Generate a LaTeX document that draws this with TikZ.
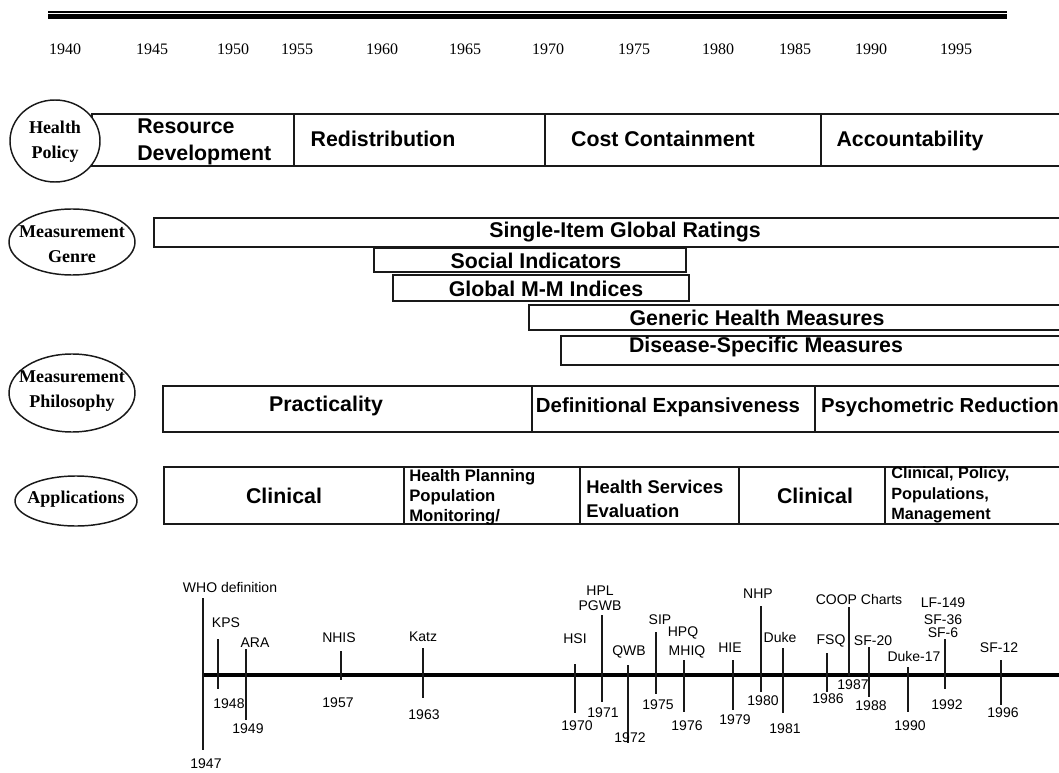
\documentclass[tikz,border=0pt]{standalone}
\usepackage{fontspec}
\setmainfont{Liberation Serif}
\newfontfamily\arial{Liberation Sans}
\usetikzlibrary{shapes.geometric}
\begin{document}
\begin{tikzpicture}[x=0.75pt,y=-0.75pt,
  box/.style={draw=black!90, line width=1.1pt},
  ell/.style={draw=black!90, line width=1.1pt, fill=white},
  yr/.style={font=\fontsize{12}{14}\selectfont, inner sep=0pt},
  cat/.style={font=\bfseries\fontsize{13.5}{18.5}\selectfont, align=center, inner sep=0pt},
  big/.style={font=\arial\bfseries\fontsize{16}{20.5}\selectfont, inner sep=0pt},
  mid/.style={font=\arial\bfseries\fontsize{13.8}{18}\selectfont, inner sep=0pt, align=left},
  sml/.style={font=\arial\bfseries\fontsize{12.5}{15}\selectfont, inner sep=0pt, align=left},
  tick/.style={draw=black!90, line width=1.1pt},
  tl/.style={font=\arial\fontsize{10.5}{12.5}\selectfont, inner sep=0pt}]
\useasboundingbox (0,0) rectangle (1059,773);
\clip (0,0) rectangle (1059,773);
% top rule
\draw[line width=0.8pt] (48,12) -- (1007,12);
\draw[line width=3.2pt] (48,16.5) -- (1007,16.5);
% years
\foreach \yy/\xx in {1940/65,1945/152,1950/233,1955/297,1960/382,1965/465,1970/548,1975/634,1980/718,1985/795,1990/871,1995/956}
  \node[yr] (y\yy) at (\xx,49) {\yy};

% Health Policy
\draw[box] (92,114) rectangle (1066,166);
\draw[box] (294,114) -- (294,166);
\draw[box] (545,114) -- (545,166);
\draw[box] (821,114) -- (821,166);
\draw[ell] (55,141) ellipse [x radius=45, y radius=41];
\node[cat] (hp) at (55,142) {Health\\Policy};
\node[big, anchor=west, align=left] (rd) at (137,142) {Resource\\Development};
\node[big] (redis) at (383,139) {Redistribution};
\node[big] (cost) at (663,139) {Cost Containment};
\node[big] (acc) at (910,141) {Accountability};

% Measurement Genre
\draw[box] (154,218) rectangle (1066,247);
\draw[box] (374,248) rectangle (686,272);
\draw[box] (393,275) rectangle (689,301);
\draw[box] (529,305) rectangle (1066,330);
\draw[box] (561,336) rectangle (1066,365);
\draw[ell] (72,242) ellipse [x radius=63, y radius=33];
\node[cat] (mg) at (72,244) {Measurement\\Genre};
\node[big] (sing) at (625,232) {Single-Item Global Ratings};
\node[big] (soc) at (536,261) {Social Indicators};
\node[big] (gmm) at (546,289) {Global M-M Indices};
\node[big] (gen) at (757,318) {Generic Health Measures};
\node[big] (dis) at (766,347) {Disease-Specific Measures};

% Measurement Philosophy
\draw[box] (163,386) rectangle (1066,432);
\draw[box] (532,386) -- (532,432);
\draw[box] (815,386) -- (815,432);
\draw[ell] (72,393) ellipse [x radius=63, y radius=39];
\node[cat] (mp) at (72,391) {Measurement\\Philosophy};
\node[big] (prac) at (326,406) {Practicality};
\node[font=\arial\bfseries\fontsize{15.3}{18}\selectfont, inner sep=0pt] (defx) at (668,407) {Definitional Expansiveness};
\node[font=\arial\bfseries\fontsize{15.2}{18}\selectfont, inner sep=0pt] (psy) at (940,407) {Psychometric Reduction};

% Applications
\draw[box] (164,467) rectangle (1066,524);
\draw[box] (404,467) -- (404,524);
\draw[box] (580,467) -- (580,524);
\draw[box] (739,467) -- (739,524);
\draw[box] (885,467) -- (885,524);
\draw[ell] (76,501) ellipse [x radius=61, y radius=25];
\node[cat] (app) at (76,499) {Applications};
\node[big] (cl1) at (284,496) {Clinical};
\node[sml, anchor=west] (hpl) at (409,497) {Health Planning\\Population\\Monitoring/};
\node[mid, anchor=west] (hse) at (586,499) {Health Services\\Evaluation};
\node[big] (cl2) at (815,496) {Clinical};
\node[sml, font=\arial\bfseries\fontsize{12.2}{15.2}\selectfont, anchor=west] (cpp) at (891,495) {Clinical, Policy,\\Populations,\\Management};

% Timeline
\coordinate (ax0) at (203,675);
\coordinate (ax1) at (1066,675);
\draw[line width=3pt] (ax0) -- (ax1);
\foreach \nm/\xx/\ya/\yb in {t47/203/598/750, t48/218/639/689, t49/246/649/720, t57/341/651/680, t63/423/648/698,
  t70/575/664/713, t71/602/615/702, t72/628/665/743, t75/656/632/694, t76/684/660/712, t79/733/660/710,
  t80/761/606/692, t81/783/648/713, t86/827/653/692, t87/849/607/676, t88/869/647/697, t90/908/667/712,
  t92/945/639/689, t96/1001/660/705}
{
  \coordinate (\nm a) at (\xx,\ya);
  \coordinate (\nm b) at (\xx,\yb);
  \draw[tick] (\nm a) -- (\nm b);
}
% labels above
\node[tl] (who) at (230,587) {WHO definition};
\node[tl] (kps) at (226,623) {KPS};
\node[tl] (ara) at (255,643) {ARA};
\node[tl] (nhis) at (339,638) {NHIS};
\node[tl] (katz) at (423,637) {Katz};
\node[tl] (hsi) at (575,639) {HSI};
\node[tl] (hplb) at (600,591) {HPL};
\node[tl] (pgwb) at (600,606) {PGWB};
\node[tl] (qwb) at (629,652) {QWB};
\node[tl] (sip) at (660,620) {SIP};
\node[tl] (hpq) at (683,633) {HPQ};
\node[tl] (mhiq) at (687,652) {MHIQ};
\node[tl] (hie) at (730,648) {HIE};
\node[tl] (nhp) at (758,594) {NHP};
\node[tl] (duke) at (780,637) {Duke};
\node[tl] (fsq) at (831,641) {FSQ};
\node[tl] (coop) at (859,599) {COOP Charts};
\node[tl] (sf20) at (873,641) {SF-20};
\node[tl] (duke17) at (914,656) {Duke-17};
\node[tl] (lf) at (943,603) {LF-149};
\node[tl] (sf36) at (943,620) {SF-36};
\node[tl] (sf6) at (943,633) {SF-6};
\node[tl] (sf12) at (999,648) {SF-12};
% years below
\node[tl] (d47) at (206,764) {1947};
\node[tl] (d48) at (229,704) {1948};
\node[tl] (d49) at (248,729) {1949};
\node[tl] (d57) at (338,703) {1957};
\node[tl] (d63) at (424,715) {1963};
\node[tl] (d70) at (577,726) {1970};
\node[tl] (d71) at (603,713) {1971};
\node[tl] (d72) at (630,738) {1972};
\node[tl] (d75) at (658,705) {1975};
\node[tl] (d76) at (687,726) {1976};
\node[tl] (d79) at (735,720) {1979};
\node[tl] (d80) at (763,701) {1980};
\node[tl] (d81) at (785,729) {1981};
\node[tl] (d86) at (828,699) {1986};
\node[tl] (d87) at (853,685) {1987};
\node[tl] (d88) at (871,706) {1988};
\node[tl] (d90) at (910,726) {1990};
\node[tl] (d92) at (947,705) {1992};
\node[tl] (d96) at (1003,713) {1996};
\end{tikzpicture}
\end{document}
